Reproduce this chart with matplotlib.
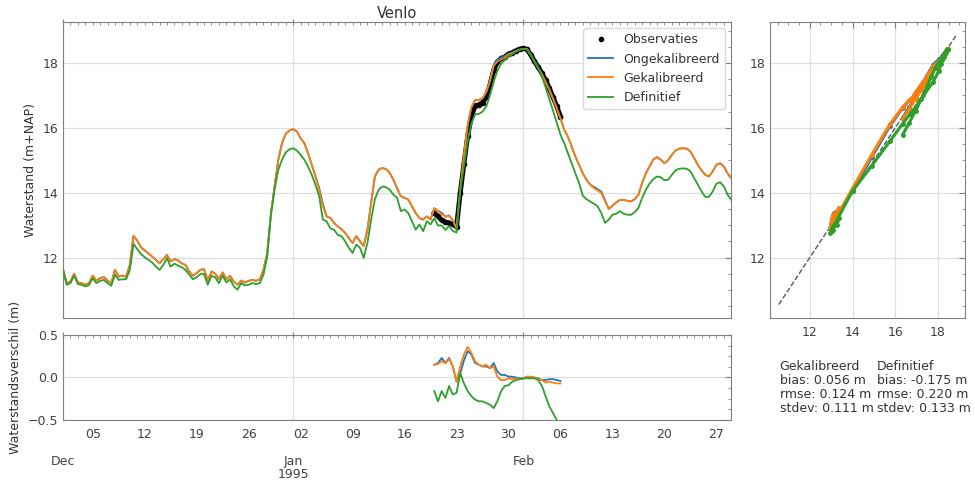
import pandas as pd
import matplotlib
matplotlib.use('Agg')
import matplotlib.pyplot as plt
import matplotlib.dates as mdates
from matplotlib.ticker import AutoMinorLocator, MultipleLocator, FuncFormatter

# model output, every 12 hours from 1 Dec 1994
start = '1994-12-01'
ongekalibreerd = [
    11.64, 11.21, 11.26, 11.50, 11.23, 11.21, 11.16, 11.21, 11.44, 11.29,
    11.36, 11.40, 11.29, 11.21, 11.62, 11.41, 11.44, 11.41, 11.77, 12.67,
    12.52, 12.32, 12.22, 12.13, 12.03, 11.93, 11.82, 11.95, 12.08, 11.88,
    11.95, 11.91, 11.82, 11.77, 11.57, 11.44, 11.52, 11.62, 11.64, 11.29,
    11.57, 11.50, 11.33, 11.54, 11.33, 11.44, 11.26, 11.16, 11.29, 11.23,
    11.28, 11.31, 11.28, 11.33, 11.62, 12.13,
    13.35, 14.20, 15.02, 15.53, 15.82, 15.92, 15.96, 15.89, 15.68, 15.53,
    15.22, 14.86, 14.50, 14.15, 13.66, 13.27, 13.22, 13.07, 12.96, 12.88,
    12.76, 12.60, 12.45, 12.66, 12.50, 12.35, 12.86, 13.68, 14.50, 14.71,
    14.76, 14.73, 14.61, 14.40, 14.14, 13.89, 13.84, 13.79, 13.58, 13.37,
    13.22, 13.17, 13.27, 13.17,
    13.52, 13.44, 13.38, 13.26, 13.30, 13.15, 12.90, 14.05, 15.10, 16.06,
    16.62, 16.85, 16.86, 16.91, 17.09, 17.43, 17.95, 18.11, 18.17, 18.22,
    18.29, 18.33, 18.38, 18.42, 18.44, 18.43, 18.25, 18.05, 17.86, 17.65,
    17.44, 17.20, 16.93, 16.63, 16.31,
    15.94, 15.73, 15.43, 15.12, 14.86, 14.60, 14.40, 14.25, 14.18, 14.11,
    14.03, 13.77, 13.50, 13.60, 13.70, 13.78, 13.78, 13.75, 13.73, 13.80,
    13.94, 14.30, 14.60, 14.81, 15.02, 15.10, 15.02, 14.91, 15.00, 15.17,
    15.30, 15.36, 15.37, 15.36, 15.27, 15.07, 14.86, 14.69, 14.55, 14.50,
    14.66, 14.86, 14.91, 14.81, 14.60, 14.45]
gekalibreerd = [
    11.64, 11.21, 11.26, 11.50, 11.23, 11.21, 11.16, 11.21, 11.44, 11.29,
    11.36, 11.40, 11.29, 11.21, 11.62, 11.41, 11.44, 11.41, 11.77, 12.67,
    12.52, 12.32, 12.22, 12.13, 12.03, 11.93, 11.82, 11.95, 12.08, 11.88,
    11.95, 11.91, 11.82, 11.77, 11.57, 11.44, 11.52, 11.62, 11.64, 11.29,
    11.57, 11.50, 11.33, 11.54, 11.33, 11.44, 11.26, 11.16, 11.29, 11.23,
    11.28, 11.31, 11.28, 11.33, 11.62, 12.13,
    13.35, 14.20, 15.02, 15.53, 15.82, 15.92, 15.96, 15.89, 15.68, 15.53,
    15.22, 14.86, 14.50, 14.09, 13.58, 13.27, 13.22, 13.07, 12.96, 12.88,
    12.76, 12.60, 12.45, 12.66, 12.50, 12.35, 12.86, 13.68, 14.50, 14.71,
    14.76, 14.73, 14.61, 14.40, 14.14, 13.89, 13.84, 13.79, 13.58, 13.37,
    13.22, 13.17, 13.27, 13.17,
    13.52, 13.43, 13.34, 13.26, 13.29, 13.15, 12.90, 14.13, 15.17, 16.11,
    16.64, 16.87, 16.86, 16.91, 17.11, 17.43, 17.91, 18.05, 18.11, 18.16,
    18.27, 18.30, 18.37, 18.41, 18.44, 18.43, 18.26, 18.05, 17.85, 17.65,
    17.41, 17.17, 16.89, 16.59, 16.28,
    15.94, 15.73, 15.43, 15.12, 14.86, 14.60, 14.40, 14.25, 14.14, 14.07,
    13.99, 13.73, 13.50, 13.60, 13.70, 13.78, 13.78, 13.75, 13.73, 13.80,
    13.94, 14.30, 14.60, 14.81, 15.02, 15.10, 15.02, 14.91, 15.00, 15.17,
    15.30, 15.36, 15.37, 15.36, 15.27, 15.07, 14.86, 14.69, 14.55, 14.50,
    14.66, 14.86, 14.91, 14.81, 14.60, 14.45]
definitief = [
    11.62, 11.16, 11.21, 11.44, 11.18, 11.16, 11.11, 11.15, 11.36, 11.21,
    11.28, 11.31, 11.21, 11.13, 11.47, 11.31, 11.33, 11.33, 11.62, 12.42,
    12.26, 12.11, 12.01, 11.93, 11.85, 11.72, 11.62, 11.77, 11.98, 11.72,
    11.81, 11.75, 11.70, 11.62, 11.47, 11.33, 11.39, 11.49, 11.50, 11.16,
    11.44, 11.39, 11.21, 11.44, 11.23, 11.33, 11.11, 11.01, 11.21, 11.14,
    11.16, 11.21, 11.18, 11.21, 11.47, 12.03,
    13.30, 14.10, 14.71, 15.02, 15.24, 15.34, 15.37, 15.30, 15.17, 15.02,
    14.81, 14.55, 14.25, 13.89, 13.17, 13.12, 12.90, 12.86, 12.70, 12.66,
    12.50, 12.30, 12.14, 12.40, 12.30, 11.99, 12.45, 13.17, 13.79, 14.09,
    14.19, 14.17, 14.09, 13.94, 13.84, 13.43, 13.48, 13.37, 13.12, 12.86,
    13.02, 12.81, 13.12, 13.02,
    13.21, 12.99, 12.99, 12.85, 12.97, 12.82, 12.77, 14.05, 14.83, 15.59,
    16.13, 16.42, 16.43, 16.50, 16.66, 17.00, 17.42, 17.76, 17.98, 18.09,
    18.19, 18.27, 18.35, 18.41, 18.44, 18.41, 18.24, 18.04, 17.84, 17.58,
    17.25, 16.88, 16.53, 16.16, 15.79,
    15.53, 15.22, 14.91, 14.60, 14.30, 13.91, 13.80, 13.73, 13.66, 13.58,
    13.37, 13.07, 13.17, 13.32, 13.35, 13.43, 13.35, 13.32, 13.32, 13.40,
    13.53, 13.84, 14.09, 14.28, 14.42, 14.50, 14.48, 14.38, 14.40, 14.55,
    14.69, 14.74, 14.75, 14.74, 14.66, 14.45, 14.25, 14.04, 13.87, 13.87,
    14.04, 14.28, 14.32, 14.20, 13.94, 13.78]

# observations, every 12 hours from 20 Jan 1995
obs_start = '1995-01-20'
observaties = [
    13.37, 13.27, 13.15, 13.09, 13.07, 13.02, 12.95, 14.00, 14.90, 15.75,
    16.35, 16.68, 16.71, 16.78, 16.96, 17.32, 17.78, 18.04, 18.14, 18.19,
    18.28, 18.32, 18.38, 18.43, 18.45, 18.42, 18.25, 18.05, 17.87, 17.68,
    17.47, 17.22, 16.95, 16.66, 16.35]

stat_names = ['bias', 'rmse', 'stdev']
stats_gek = [0.056, 0.124, 0.111]
stats_def = [-0.175, 0.220, 0.133]

t = pd.date_range(start, periods=len(gekalibreerd), freq='12h')
t_obs = pd.date_range(obs_start, periods=len(observaties), freq='12h')
idx = t.get_indexer(t_obs)
obs = pd.Series(observaties, index=t_obs)

series = [('Ongekalibreerd', ongekalibreerd, 'C0'),
          ('Gekalibreerd', gekalibreerd, 'C1'),
          ('Definitief', definitief, 'C2')]

plt.rcParams['font.size'] = 9
plt.rcParams['text.color'] = '0.2'
plt.rcParams['axes.labelcolor'] = '0.2'

fig = plt.figure(figsize=(9.75, 4.84), dpi=100)
ax = fig.add_axes([0.0646, 0.343, 0.6851, 0.6115])
axd = fig.add_axes([0.0646, 0.1322, 0.6851, 0.1757], sharex=ax)
axs = fig.add_axes([0.7897, 0.343, 0.2, 0.6115])


def style(a):
    for s in a.spines.values():
        s.set_color('0.5')
    a.grid(True, which='major', color='0.87', lw=0.9)
    a.set_axisbelow(True)
    a.tick_params(which='both', colors='0.5', labelcolor='0.25', direction='in')
    a.tick_params(which='major', length=4)
    a.tick_params(which='minor', length=2)
    a.tick_params(axis='y', which='both', left=False, right=True)
    a.tick_params(axis='x', which='both', bottom=False, top=True)


# main time series
ax.plot(t_obs, observaties, color='k', lw=3.5, zorder=2)
ax.plot(t_obs, observaties, 'k.', ms=6, label='Observaties', zorder=2)
for name, vals, c in series:
    ax.plot(t, vals, color=c, lw=1.3, label=name, zorder=3)
ax.set_title('Venlo', fontsize=10.5, pad=3)
ax.set_ylabel('Waterstand (m+NAP)')
ax.legend(loc='upper right', fontsize=9, framealpha=1, edgecolor='0.85')

# differences model - observation
for name, vals, c in series:
    model = pd.Series(vals, index=t).iloc[idx].values
    axd.plot(t_obs, model - obs.values, color=c, lw=1.3)
axd.set_ylim(-0.5, 0.5)
axd.yaxis.set_major_locator(MultipleLocator(0.5))
axd.set_ylabel('Waterstandsverschil (m)')

ylo, yhi = 10.135, 19.265
for a in (ax, axd):
    style(a)
    a.yaxis.set_minor_locator(AutoMinorLocator(4))
ax.set_ylim(ylo, yhi)
ax.set_xlim(pd.Timestamp('1994-12-01'), pd.Timestamp('1995-02-28 23:00'))
ax.xaxis.set_major_locator(mdates.MonthLocator())
ax.xaxis.set_minor_locator(mdates.DayLocator())


def major_fmt(x, pos):
    d = mdates.num2date(x)
    return f'{d:%b}\n{d.year}' if d.month == 1 else f'{d:%b}'


def minor_fmt(x, pos):
    d = mdates.num2date(x)
    return f'{d:%d}' if d.weekday() == 0 else ''


axd.xaxis.set_major_formatter(FuncFormatter(major_fmt))
axd.xaxis.set_minor_formatter(FuncFormatter(minor_fmt))
for a in (ax, axd):
    a.tick_params(axis='x', which='major', direction='inout', length=5, pad=23)
    a.tick_params(axis='x', which='minor', pad=6)
ax.tick_params(axis='x', which='both', labelbottom=False)
for lab in axd.get_xticklabels(which='major'):
    lab.set_linespacing(0.95)

# scatter observation vs model
axs.plot([10.55, 18.85], [10.55, 18.85], ls='--', color='0.35', lw=1, zorder=1)
for name, vals, c in series:
    model = pd.Series(vals, index=t).iloc[idx].values
    axs.plot(observaties, model, '.-', color=c, ms=5, lw=2.2, zorder=2)
style(axs)
axs.set_xlim(ylo, yhi)
axs.set_ylim(ylo, yhi)
axs.xaxis.set_major_locator(MultipleLocator(2))
axs.yaxis.set_major_locator(MultipleLocator(2))
axs.xaxis.set_minor_locator(AutoMinorLocator(4))
axs.yaxis.set_minor_locator(AutoMinorLocator(4))
axs.tick_params(axis='x', pad=6)

txt_g = 'Gekalibreerd\n' + '\n'.join(f'{n}: {v:.3f} m' for n, v in zip(stat_names, stats_gek))
txt_d = 'Definitief\n' + '\n'.join(f'{n}: {v:.3f} m' for n, v in zip(stat_names, stats_def))
fig.text(0.7995, 0.256, txt_g, va='top', ha='left', fontsize=9, linespacing=1.1)
fig.text(0.8995, 0.256, txt_d, va='top', ha='left', fontsize=9, linespacing=1.1)

fig.savefig('out.png', dpi=100)
